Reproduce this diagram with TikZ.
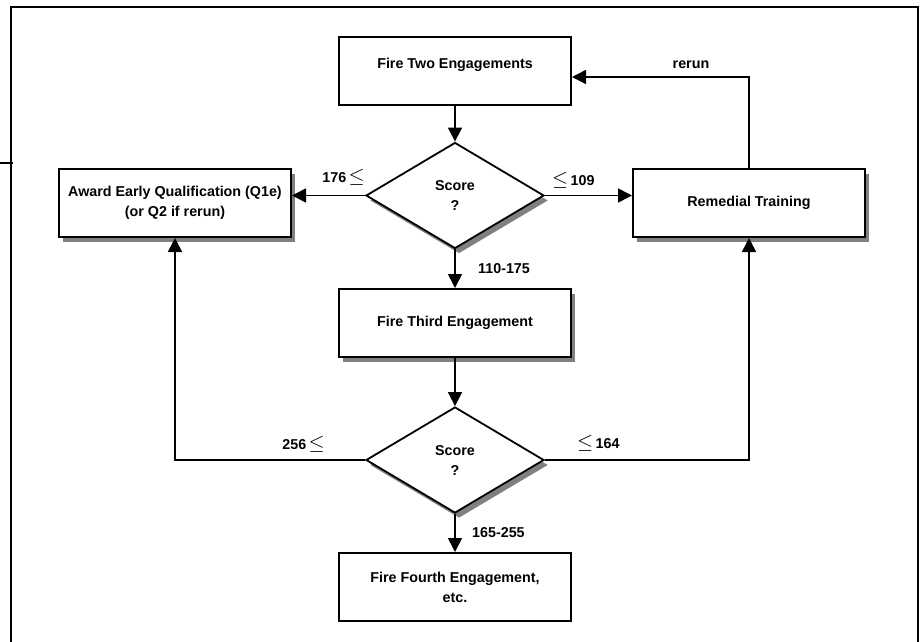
\documentclass[tikz,border=0pt]{standalone}
\usepackage{fontspec}
\setmainfont{Liberation Sans}
\usepackage{tikz}
\usetikzlibrary{shapes.geometric,shadows,arrows.meta,calc}

\newcommand{\lesym}{{\fontsize{20}{20}\selectfont$\leq$}}

\tikzset{
  stepbox/.style={draw, line width=2pt, fill=white, minimum width=232pt,
    minimum height=68pt, inner sep=0pt, align=center},
  shadebox/.style={stepbox, drop shadow={shadow xshift=4pt, shadow yshift=-5pt,
    fill=gray, opacity=1}},
  decision/.style={diamond, draw, line width=1.8pt, fill=white, minimum width=178pt,
    minimum height=106pt, inner sep=0pt, align=center,
    drop shadow={shadow xshift=4pt, shadow yshift=-5pt, fill=gray, opacity=1}},
  arr/.style={line width=1.6pt, -{Triangle[length=14pt,width=14pt]}},
  lbl/.style={inner sep=0pt}
}

\begin{document}
\begin{tikzpicture}[x=1pt, y=-1pt, font=\fontsize{14.3}{20}\selectfont\bfseries]
    \useasboundingbox (0,0) rectangle (921,641);
    % Outer frame
    \draw[line width=2pt] (11,660) -- (11,7) -- (918,7) -- (918,660);
    \draw[line width=2pt] (0,163) -- (13,163);

    % Boxes and decisions
    \node[stepbox] (two) at (455,70.5) {Fire Two Engagements\\[-6pt]\mbox{}};
    \node[decision] (dia1) at (455,195.5) {Score\\?};
    \node[shadebox] (award) at (175,203) {Award Early Qualification (Q1e)\\(or Q2 if rerun)};
    \node[shadebox] (rem) at (749,203) {Remedial Training};
    \node[shadebox] (three) at (455,323) {Fire Third Engagement};
    \node[decision] (dia2) at (455,460) {Score\\?};
    \node[stepbox] (four) at (455,587) {Fire Fourth Engagement,\\etc.};

    % Connectors
    \draw[arr] (two) -- (dia1);
    \draw[arr] (dia1.west) -- (dia1.west -| award.east);
    \draw[arr] (dia1.east) -- (dia1.east -| rem.west);
    \draw[arr] (dia1) -- (three);
    \draw[arr] (three) -- (dia2);
    \draw[arr] (dia2) -- (four);
    \draw[arr] (dia2.west) -| (award.south);
    \draw[arr] (dia2.east) -| (rem.south);
    \draw[arr] (rem.north) |- ($(two.east)+(0,6.5)$);

    % Labels
    \node[lbl, anchor=base east] (l176) at (365,182) {176\,\lesym};
    \node[lbl, anchor=base west] (l109) at (552,185) {\lesym\,109};
    \node[lbl, anchor=base west] (l110) at (478,273) {110-175};
    \node[lbl, anchor=base east] (l256) at (325,449) {256\,\lesym};
    \node[lbl, anchor=base west] (l164) at (577,448) {\lesym\,164};
    \node[lbl, anchor=base west] (l165) at (472,537) {165-255};
    \node[lbl, anchor=base] (lrerun) at (691,68) {rerun};
\end{tikzpicture}
\end{document}
